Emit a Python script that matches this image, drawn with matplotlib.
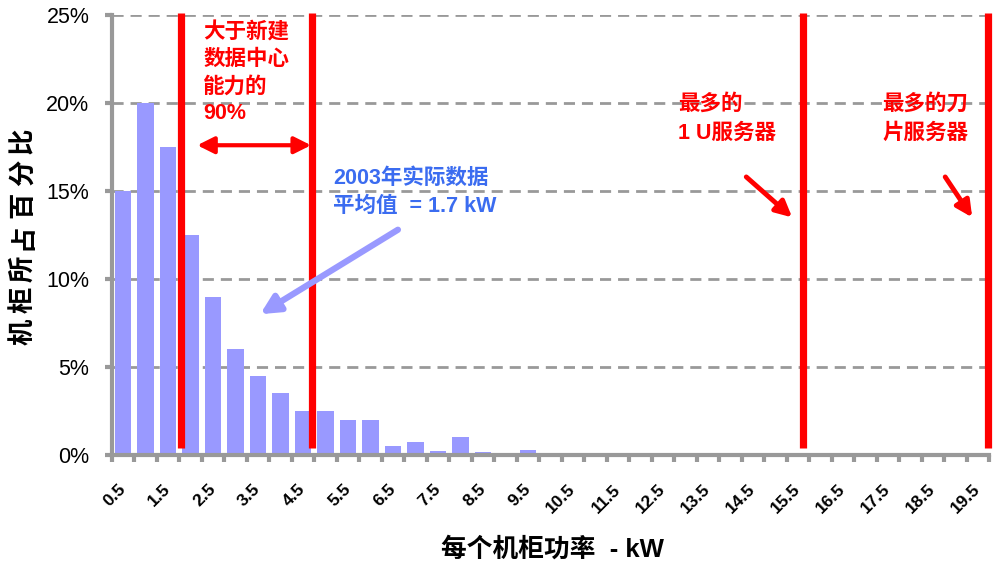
import matplotlib
matplotlib.use("Agg")
import matplotlib.pyplot as plt
import numpy as np

plt.rcParams['font.family'] = ['Liberation Sans', 'Noto Sans CJK SC', 'DejaVu Sans']

# 每个机柜功率 (kW) 分档，以及各档机柜所占百分比
kw_bins = [0.5, 1.0, 1.5, 2.0, 2.5, 3.0, 3.5, 4.0, 4.5, 5.0,
           5.5, 6.0, 6.5, 7.0, 7.5, 8.0, 8.5, 9.0, 9.5, 10.0,
           10.5, 11.0, 11.5, 12.0, 12.5, 13.0, 13.5, 14.0, 14.5, 15.0,
           15.5, 16.0, 16.5, 17.0, 17.5, 18.0, 18.5, 19.0, 19.5]
rack_pct = [15, 20, 17.5, 12.5, 9, 6, 4.5, 3.5, 2.5, 2.5,
            2, 2, 0.5, 0.75, 0.25, 1, 0.15, 0, 0.3, 0,
            0, 0, 0, 0, 0, 0, 0, 0, 0, 0,
            0, 0, 0, 0, 0, 0, 0, 0, 0]
tick_labels = ["0.5", "1.5", "2.5", "3.5", "4.5", "5.5", "6.5", "7.5", "8.5", "9.5",
               "10.5", "11.5", "12.5", "13.5", "14.5", "15.5", "16.5", "17.5", "18.5", "19.5"]
# 红色竖线: 新建数据中心能力范围, 1U 服务器, 刀片服务器
limits_kw = [1.8, 4.7, 15.6, 19.72]

GRAY = '#999999'
RED = '#ff0000'
BLUE = '#3b6cf0'
BAR = '#9999ff'

fig = plt.figure(figsize=(10, 5.65), dpi=100)
ax = fig.add_axes([0.1117, 1 - 455 / 565, (989.3 - 111.7) / 1000, 440 / 565])

ax.bar(kw_bins, rack_pct, width=0.375, color=BAR, zorder=2)
ax.vlines(limits_kw, 0.4, 25.1, color=RED, lw=5.2, zorder=3, clip_on=False)

ax.set_xlim(0.25, 19.75)
ax.set_ylim(0, 25)

# 坐标轴样式
for s in ['top', 'right']:
    ax.spines[s].set_visible(False)
for s in ['left', 'bottom']:
    ax.spines[s].set_color(GRAY)
    ax.spines[s].set_linewidth(3)

ax.set_yticks(np.arange(0, 26, 5))
ax.set_yticklabels([f"{v}%" for v in range(0, 26, 5)], fontsize=15.5)
ax.tick_params(axis='y', length=5, width=3, color=GRAY, pad=11)

ax.set_xticks(np.arange(0.5, 20, 1.0))
ax.set_xticklabels(tick_labels, rotation=45, ha='right', va='center',
                   rotation_mode='anchor', fontsize=12.5, fontweight='bold')
ax.tick_params(axis='x', which='major', length=0, pad=23)
ax.set_xticks(np.arange(0.25, 19.8, 0.5), minor=True)
ax.tick_params(axis='x', which='minor', length=5, width=3, color=GRAY)

ax.yaxis.grid(True, linestyle=(0, (4, 2.5)), color=GRAY, lw=2, zorder=1)
ax.set_axisbelow(True)

# 纵轴标题 (字间距较大, 逐字从下往上摆放)
ylab = '机柜所占百分比'
for i, ch in enumerate(ylab):
    fig.text(0.023, 1 - (332 - i * 31.8) / 565, ch, rotation=90, ha='center', va='center',
             fontsize=19, fontweight='bold')
fig.text(0.552, 1 - 549 / 565, '每个机柜功率  - kW', ha='center', va='center',
         fontsize=18.5, fontweight='bold')

# 注释文字与箭头
ax.text(2.28, 24.6, '大于新建\n数据中心\n能力的\n90%', color=RED, fontsize=15.5,
        fontweight='bold', ha='left', va='top', linespacing=1.38)
ax.annotate('', xy=(2.15, 17.6), xytext=(4.68, 17.6),
            arrowprops=dict(arrowstyle='<|-|>', color=RED, lw=3,
                            mutation_scale=25, shrinkA=0, shrinkB=0))

ax.text(5.17, 16.3, '2003年实际数据\n平均值  = 1.7 kW', color=BLUE, fontsize=15.5,
        fontweight='bold', ha='left', va='top', linespacing=1.42)
ax.annotate('', xy=(3.55, 8.0), xytext=(6.61, 12.8),
            arrowprops=dict(arrowstyle='-|>', color=BAR, lw=4.5,
                            mutation_scale=28, shrinkA=0, shrinkB=0))

ax.text(12.83, 20.5, '最多的\n1 U服务器', color=RED, fontsize=15.5,
        fontweight='bold', ha='left', va='top', linespacing=1.45)
ax.annotate('', xy=(15.37, 13.5), xytext=(14.35, 15.8),
            arrowprops=dict(arrowstyle='-|>', color=RED, lw=3.5,
                            mutation_scale=24, shrinkA=0, shrinkB=0))

ax.text(17.37, 20.5, '最多的刀\n片服务器', color=RED, fontsize=15.5,
        fontweight='bold', ha='left', va='top', linespacing=1.45)
ax.annotate('', xy=(19.37, 13.5), xytext=(18.77, 15.8),
            arrowprops=dict(arrowstyle='-|>', color=RED, lw=3.5,
                            mutation_scale=24, shrinkA=0, shrinkB=0))

fig.savefig('out.png', dpi=100)
